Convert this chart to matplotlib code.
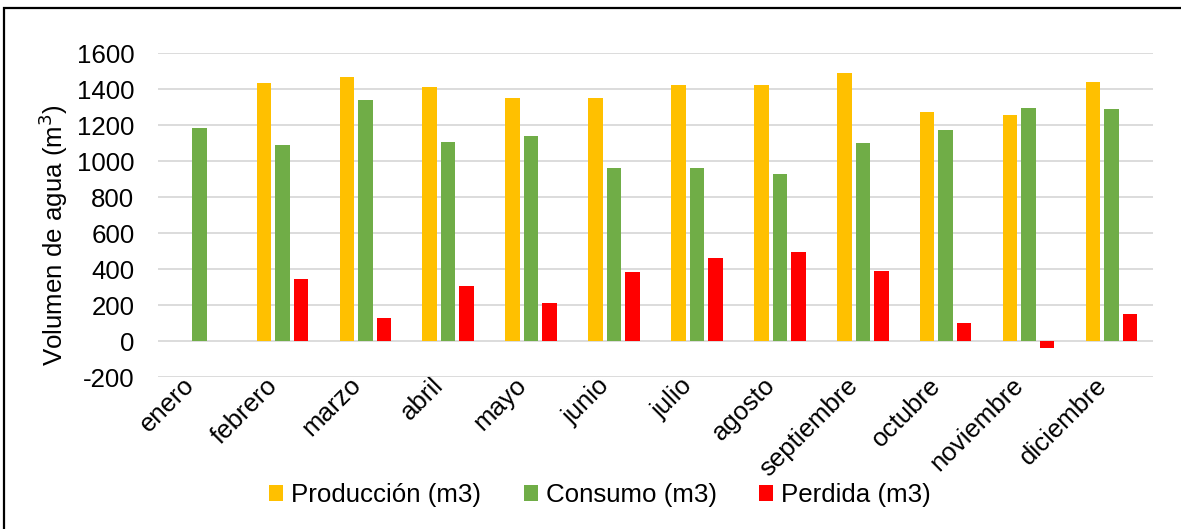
import numpy as np
import matplotlib
matplotlib.use("Agg")
import matplotlib.pyplot as plt
from matplotlib.patches import Rectangle

plt.rcParams['font.family'] = ['Liberation Sans', 'DejaVu Sans']

meses = ['enero', 'febrero', 'marzo', 'abril', 'mayo', 'junio', 'julio',
         'agosto', 'septiembre', 'octubre', 'noviembre', 'diciembre']
produccion = [np.nan, 1435, 1468, 1413, 1352, 1350, 1424, 1422, 1489, 1274, 1259, 1440]
consumo = [1187, 1091, 1341, 1105, 1141, 963, 961, 928, 1100, 1172, 1294, 1289]
perdida = [np.nan, 344, 127, 308, 211, 387, 463, 494, 389, 102, -35, 151]
y_ticks = [-200, 0, 200, 400, 600, 800, 1000, 1200, 1400, 1600]

AMARILLO = '#FFC000'
VERDE = '#70AD47'
ROJO = '#FF0000'
FS = 18.6

fig = plt.figure(figsize=(11.81, 5.29), dpi=100)
ax = fig.add_axes([0.1338, 0.2868, 0.9763 - 0.1338, 0.8992 - 0.2868])

x = np.arange(len(meses))
w = 0.175
step = 0.223
ax.bar(x - step, produccion, w, color=AMARILLO, label='Producción (m3)', zorder=3)
ax.bar(x, consumo, w, color=VERDE, label='Consumo (m3)', zorder=3)
ax.bar(x + step, perdida, w, color=ROJO, label='Perdida (m3)', zorder=3)

ax.set_xlim(-0.5, len(meses) - 0.5)
ax.set_ylim(-200, 1600)
ax.set_yticks(y_ticks)
ax.set_yticklabels([str(v) for v in y_ticks], fontsize=FS)
ax.set_xticks(x)
ax.set_xticklabels(meses, rotation=45, ha='right', va='top', fontsize=FS)
ax.tick_params(axis='both', length=0)
ax.tick_params(axis='y', pad=17)
ax.tick_params(axis='x', pad=-3)
ax.grid(axis='y', color='#D9D9D9', linewidth=1.3, zorder=0)
ax.set_axisbelow(True)
for s in ax.spines.values():
    s.set_visible(False)

fig.text(53 / 1181, 1 - 235 / 529, 'Volumen de agua (m$^3$)', rotation=90,
         ha='center', va='center', fontsize=FS)

ax.legend(loc='center', bbox_to_anchor=(0.508, 0.064), bbox_transform=fig.transFigure,
          ncol=3, frameon=False, fontsize=FS, handlelength=0.55, handleheight=0.55,
          handletextpad=0.3, columnspacing=1.65, borderpad=0)

# outer frame (top and left edges fall inside the canvas)
fig.patches.append(Rectangle((4 / 1181, -0.05), 1.2, 1 - 8 / 529 + 0.05,
                             transform=fig.transFigure, fill=False,
                             edgecolor='black', linewidth=1.6, zorder=10))

fig.savefig('out.png', dpi=100)
